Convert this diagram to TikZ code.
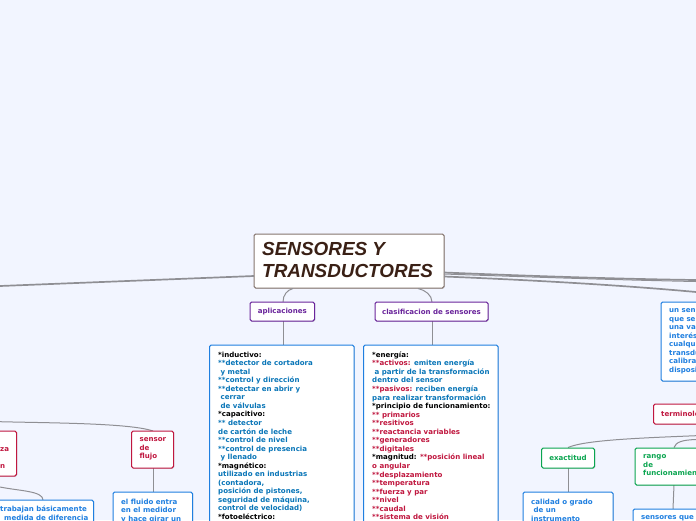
\documentclass[tikz,border=0pt]{standalone}
\usepackage{fontspec}
\setmainfont{DejaVu Sans}
\newfontfamily\titlefont{Liberation Sans}
\usetikzlibrary{shadows}
\definecolor{bgc}{HTML}{F2F5FF}
\definecolor{linec}{HTML}{8F8F94}
\definecolor{bluec}{HTML}{1F7FE0}
\definecolor{tealt}{HTML}{0A76B8}
\definecolor{redc}{HTML}{C0173F}
\definecolor{greenc}{HTML}{0BA550}
\definecolor{purplec}{HTML}{6A259B}
\definecolor{brownc}{HTML}{85756E}
\definecolor{titlet}{HTML}{3A2015}
\tikzset{
  x=1pt,y=-1pt,
  conn/.style={draw=linec,line width=1pt},
  conn2/.style={draw=linec,line width=1.7pt},
  box/.style={rounded corners=1.6pt,fill=white,line width=1pt,drop shadow={shadow xshift=0.7pt,shadow yshift=-0.7pt,opacity=.35,fill=black!60}},
  txt/.style={anchor=north west,inner sep=0pt,align=left,font=\fontsize{7.05}{8.55}\selectfont\bfseries},
  lbl/.style={inner sep=0pt,font=\fontsize{7.05}{8.55}\selectfont\bfseries},
}
\begin{document}
\begin{tikzpicture}
\useasboundingbox (0,0) rectangle (696,520);
\fill[bgc] (0,0) rectangle (696,520);
\begin{scope}
\clip (0,0) rectangle (696,520);
% title box and its named anchor points
\draw[box,draw=brownc] (254,234) rectangle (444,288);
\node[txt,text=titlet,font=\titlefont\fontsize{18.9}{22}\selectfont\bfseries\itshape] (title) at (262,242.5) {SENSORES Y\\TRANSDUCTORES};
\coordinate (tl) at (254,276);
\coordinate (tr1) at (444,272.5);
\coordinate (tr2) at (444,274);
\coordinate (tr3) at (444,276.5);
\draw[conn2] (tl) -- (0,286);
\draw[conn2] (tr1) .. controls (530,276) and (620,279) .. (696,280);
\draw[conn] (tr2) .. controls (530,277) and (620,280) .. (696,281.5);
\draw[conn2] (tr3) .. controls (530,280) and (620,285) .. (696,292);
\draw[conn] (293,288.5) .. controls (287,290) and (283,295) .. (283,302);
\draw[conn] (418,288.5) .. controls (425,290) and (432,295) .. (432,302);
\draw[conn] (283,321) -- (283,345);
\draw[conn] (432,321) -- (432,345);
\draw[conn] (0,421.7) .. controls (50,423) and (130,423) .. (153,431);
\draw[conn] (153,468) -- (153,492);
\draw[conn] (0,487) .. controls (20,491) and (43,491) .. (43,500);
\draw[conn] (696,435.7) .. controls (640,438) and (585,440) .. (568,447.5);
\draw[conn] (696,439.5) .. controls (682,440) and (676,442) .. (674,447.5);
\draw[conn] (568,468) -- (568,492);
\draw[conn] (674,485) -- (673,509);
\end{scope}
% purple
\draw[box,draw=purplec] (250,302) rectangle (314.5,321);
\node[lbl,text=purplec] (apl) at (282.3,311.5) {aplicaciones};
\draw[box,draw=purplec] (375,302) rectangle (488,321);
\node[lbl,text=purplec] (cla) at (431.5,311.5) {clasificacion de sensores};
% aplicaciones text
\draw[box,draw=bluec] (209.5,345) rectangle (354,530);
\node[txt] (t1) at (218,351.5) {\textcolor{black}{*inductivo:}\\
\textcolor{tealt}{**detector de cortadora}\\
\textcolor{tealt}{\ y metal}\\
\textcolor{tealt}{**control y dirección}\\
\textcolor{tealt}{**detectar en abrir y}\\
\textcolor{tealt}{\ cerrar}\\
\textcolor{tealt}{\ de válvulas}\\
\textcolor{black}{*capacitivo:}\\
\textcolor{tealt}{** detector}\\
\textcolor{tealt}{de cartón de leche}\\
\textcolor{tealt}{**control de nivel}\\
\textcolor{tealt}{**control de presencia}\\
\textcolor{tealt}{\ y llenado}\\
\textcolor{black}{*magnético:}\\
\textcolor{tealt}{utilizado en industrias}\\
\textcolor{tealt}{(contadora,}\\
\textcolor{tealt}{posición de pistones,}\\
\textcolor{tealt}{seguridad de máquina,}\\
\textcolor{tealt}{control de velocidad)}\\
\textcolor{black}{*fotoeléctrico:}};
% clasificacion text
\draw[box,draw=bluec] (363.5,345) rectangle (498,530);
\node[txt] (t2) at (372,351.5) {\textcolor{black}{*energía:}\\
\textcolor{redc}{**activos:} \textcolor{tealt}{emiten energía}\\
\textcolor{tealt}{\ a partir de la transformación}\\
\textcolor{tealt}{dentro del sensor}\\
\textcolor{redc}{**pasivos:} \textcolor{tealt}{reciben energía}\\
\textcolor{tealt}{para realizar transformación}\\
\textcolor{black}{*principio de funcionamiento:}\\
\textcolor{redc}{** primarios}\\
\textcolor{redc}{**resitivos}\\
\textcolor{redc}{**reactancia variables}\\
\textcolor{redc}{**generadores}\\
\textcolor{redc}{**digitales}\\
\textcolor{black}{*magnitud:} \textcolor{redc}{**posición lineal}\\
\textcolor{redc}{o angular}\\
\textcolor{redc}{**desplazamiento}\\
\textcolor{redc}{**temperatura}\\
\textcolor{redc}{**fuerza y par}\\
\textcolor{redc}{**nivel}\\
\textcolor{redc}{**caudal}\\
\textcolor{redc}{**sistema de visión}};
% right sensor box
\draw[box,draw=bluec] (661,302) rectangle (720,381);
\node[txt,text=bluec] (t3) at (669,308.5) {un sen\\que se\\una va\\interés\\cualqu\\transdu\\calibra\\disposi};
% terminologia
\draw[box,draw=redc] (653.5,404) rectangle (740,424);
\node[lbl,anchor=west,text=redc] (t4) at (661,414) {terminolo};
% exactitud
\draw[box,draw=greenc] (541.5,448) rectangle (594.5,468);
\node[lbl,text=greenc] (t5) at (568,458) {exactitud};
% rango
\draw[box,draw=greenc] (635,448) rectangle (720,485);
\node[txt,text=greenc] (t6) at (643,454.5) {rango\\de\\funcionamien};
% calidad
\draw[box,draw=bluec] (523,492) rectangle (613,540);
\node[txt,text=bluec] (t7) at (531,498.5) {calidad o grado\\\ de un\\instrumento};
% sensores que
\draw[box,draw=bluec] (633,509) rectangle (730,540);
\node[txt,text=bluec] (t8) at (641,515) {sensores que};
% sensor de flujo
\draw[box,draw=redc] (131.5,431) rectangle (173.5,468);
\node[txt,text=redc] (t9) at (139.5,437.5) {sensor\\de\\flujo};
% el fluido
\draw[box,draw=bluec] (113,492) rectangle (192.5,540);
\node[txt,text=bluec] (t10) at (121,498.5) {el fluido entra\\en el medidor\\y hace girar un};
% left red
\draw[box,draw=redc] (-40,431) rectangle (16.5,476);
\node[lbl,anchor=west,text=redc] (t11) at (0,450) {za};
\node[lbl,anchor=west,text=redc] (t11b) at (0,466.5) {n};
% trabajan
\draw[box,draw=bluec] (-60,500) rectangle (93.5,540);
\node[txt,text=bluec] (t12) at (0,506) {trabajan básicamente};
\node[txt,text=bluec] (t13) at (4,514.5) {medida de diferencia};
\end{tikzpicture}
\end{document}
